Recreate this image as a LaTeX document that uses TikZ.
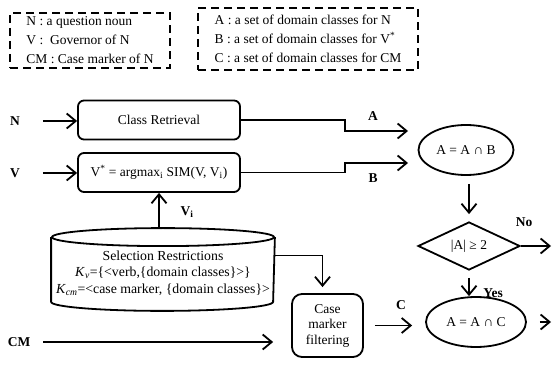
\documentclass[tikz,border=0pt]{standalone}
\usepackage{fontspec}
\setmainfont{Liberation Serif}
\usetikzlibrary{shapes.geometric,arrows.meta}

\tikzset{
  arr/.style={-{Straight Barb[length=9pt,width=15pt]}},
  legend/.style={draw, dash pattern=on 8pt off 5pt, align=left, inner sep=0pt},
  procbox/.style={draw, rounded corners=6pt, minimum width=162pt, minimum height=39pt, inner sep=0pt},
  setop/.style={draw, ellipse, minimum height=50pt, inner sep=0pt},
  lab/.style={font=\bfseries\fontsize{13.5}{16}\selectfont, inner sep=0pt}
}

\begin{document}
\begin{tikzpicture}[x=1pt,y=-1pt,line width=1.8pt,font=\fontsize{13.5}{19}\selectfont]
\useasboundingbox (0,0) rectangle (552,374);

\node[legend, minimum width=160pt, minimum height=55pt] (keyin) at (90,40.5)
  {N : a question noun\\V :\ \ Governor of N\\CM : Case marker of N};
\node[legend, minimum width=220pt, minimum height=62pt] (keyout) at (308,39)
  {A : a set of domain classes for N\\B : a set of domain classes for V\textsuperscript{*}\\C : a set of domain classes for CM};

\node[lab] (n) at (15,121) {N};
\node[lab] (v) at (15,173) {V};
\node[lab] (cm) at (19,342) {CM};

\node[procbox] (retr) at (159,120) {Class Retrieval};
\node[procbox] (vsel) at (159,172.5) {V\textsuperscript{*} = argmax\textsubscript{i} SIM(V, V\textsubscript{i})};

% selection restrictions store
\node[minimum width=222pt, minimum height=81pt, inner sep=0pt] (sel) at (163,269.5) {};
\draw ([yshift=-9pt]sel.north west) -- ([yshift=9pt]sel.south west)
  arc[start angle=180, end angle=360, x radius=111pt, y radius=9pt] -- ([yshift=-9pt]sel.north east);
\draw ([yshift=-9pt]sel.north) ellipse[x radius=111pt, y radius=9pt];
\node[align=center, inner sep=0pt, font=\fontsize{13.8}{16.5}\selectfont] (seltext) at ([yshift=-3.5pt]sel.center)
  {Selection Restrictions\\ \textit{K}\textsubscript{\textit{v}}=\{<verb,\{domain classes\}>\}\\
   \textit{K}\textsubscript{\textit{cm}}=<case marker, \{domain classes\}>};

\node[draw, rounded corners=10pt, minimum width=71pt, minimum height=63pt, inner sep=0pt,
  align=center, font=\fontsize{13.5}{15.5}\selectfont] (filt) at (327.5,325.5) {Case\\marker\\filtering};

\node[setop, minimum width=95pt] (meetb) at (466,150) {A = A ∩ B};
\node[draw, diamond, aspect=2, minimum width=102pt, minimum height=48pt, inner sep=0pt] (test) at (469,246) {|A| ≥ 2};
\node[setop, minimum width=100pt] (meetc) at (476,322) {A = A ∩ C};

\coordinate (atip) at (408,131);
\coordinate (btip) at (408,163);
\coordinate (noend) at (551,246);
\coordinate (outend) at (551,322);

\draw[arr, shorten <=22pt] (n.east) -- (n.east -| retr.west);
\draw[arr, shorten <=22pt] (v.east) -- (v.east -| vsel.west);
\draw[arr, shorten <=12pt, shorten >=18pt] (cm.east) -- (cm.east -| filt.west);

\draw[arr] (retr.east) -- ++(104,0) |- (atip);
\draw[arr] (vsel.east) -- ++(104,0) |- (btip);
\node[lab] (alab) at (373,116) {A};
\node[lab] (blab) at (373,178) {B};

\draw[arr] (vsel.south |- sel.north) -- (vsel.south);
\node[lab] (vilab) at (187,212) {V\textsubscript{i}};

\draw[arr, shorten >=6pt] ([yshift=14pt]sel.east) -| ([xshift=-5pt]filt.north);

\draw[arr, shorten <=8pt, shorten >=7pt] (test.north |- meetb.south) -- (test.north);
\draw[arr] (test.east) -- (noend);
\node[lab] (nolab) at (524,222) {No};
\draw[arr, shorten <=7pt] (test.south) -- (test.south |- meetc.north);
\node[lab] (yeslab) at (493,293) {Yes};

\draw[arr, shorten <=11pt, shorten >=13pt] (filt.east) -- (filt.east -| meetc.west);
\node[lab] (clab) at (401,305) {C};
\draw[arr, shorten <=13pt] (meetc.east) -- (outend);
\end{tikzpicture}
\end{document}
